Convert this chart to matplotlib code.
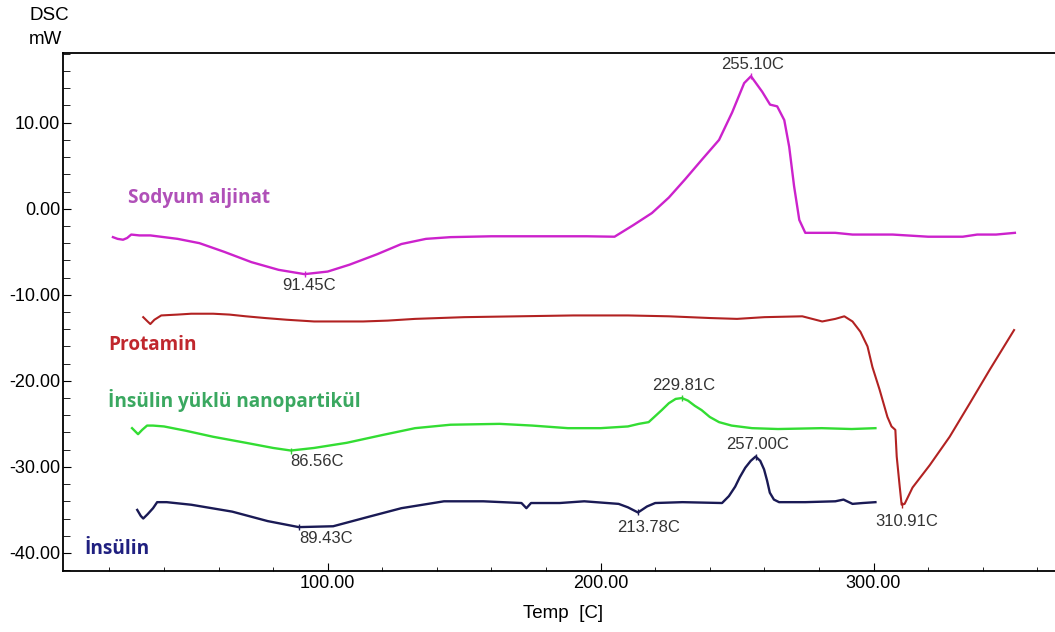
import matplotlib
matplotlib.use("Agg")
import matplotlib.pyplot as plt
from matplotlib.ticker import MultipleLocator, FormatStrFormatter

plt.rcParams['font.family'] = ['Liberation Sans', 'DejaVu Sans']

# Sodyum aljinat (magenta)
alj_t = [21.3, 23, 25, 26.5, 28, 31, 35, 45, 53, 62, 72, 82, 91.5, 100, 108, 118, 127, 136, 145,
         160, 180, 195, 205.1, 212, 218.8, 225, 230.9, 237.1, 243.4, 248.2, 252.6, 255.1, 259.2,
         262.1, 264.7, 267.3, 269.1, 270.9, 272.8, 275, 286, 292.3, 307, 320, 332.7, 338, 344.9, 351.8]
alj_v = [-3.3, -3.5, -3.6, -3.4, -3.0, -3.1, -3.1, -3.5, -4.0, -5.0, -6.2, -7.1, -7.6, -7.3, -6.5,
         -5.3, -4.1, -3.5, -3.3, -3.2, -3.2, -3.2, -3.25, -1.9, -0.5, 1.3, 3.4, 5.7, 8.0, 11.2, 14.6,
         15.4, 13.6, 12.1, 11.9, 10.3, 7.2, 2.6, -1.3, -2.8, -2.8, -3.0, -3.0, -3.25, -3.25, -3.0, -3.0, -2.8]

# Protamin (red)
pro_t = [32.4, 34, 35, 36.5, 39, 45, 50, 58, 64, 70, 77, 85, 95, 105, 113, 122, 132, 150, 170, 190,
         210, 225, 240, 250, 260, 273.9, 281.2, 286, 289.3, 292.3, 295.2, 297.8, 299.6, 302.2, 305.1,
         306.6, 308, 308.5, 309.6, 310.3, 311.4, 314.3, 320.6, 327.9, 335.3, 342.6, 351.5]
pro_v = [-12.6, -13.1, -13.4, -12.9, -12.4, -12.3, -12.2, -12.2, -12.3, -12.5, -12.7, -12.9, -13.1,
         -13.1, -13.1, -13.0, -12.8, -12.6, -12.5, -12.4, -12.4, -12.5, -12.7, -12.8, -12.6, -12.5,
         -13.1, -12.8, -12.5, -13.1, -14.3, -16.0, -18.4, -21.0, -24.2, -25.3, -25.7, -28.8, -32.3,
         -34.4, -34.3, -32.4, -29.8, -26.5, -22.6, -18.7, -14.1]

# Insulin yuklu nanopartikul (green)
nan_t = [28.3, 30.5, 32, 33.8, 36, 40, 48, 58, 70, 80, 86.5, 95, 107, 120, 132, 145, 163, 175, 188,
         200, 210, 214, 217.6, 220, 222.4, 225, 227.5, 229.8, 232, 234.5, 237, 240, 243.4, 248,
         255.5, 265, 281, 292, 300.7]
nan_v = [-25.5, -26.2, -25.7, -25.2, -25.2, -25.3, -25.8, -26.5, -27.2, -27.8, -28.1, -27.8, -27.2,
         -26.3, -25.5, -25.1, -25.0, -25.2, -25.5, -25.5, -25.3, -25.0, -24.8, -24.1, -23.4, -22.6,
         -22.1, -22.0, -22.3, -22.9, -23.4, -24.2, -24.8, -25.2, -25.5, -25.6, -25.5, -25.6, -25.5]

# Insulin (navy)
ins_t = [30.2, 31.5, 32.4, 34, 36, 37.5, 41, 50, 65, 78, 89.4, 102, 115, 127, 142.6, 157, 171,
         172.8, 174.5, 185, 194, 206.6, 210, 213.7, 217, 220, 230, 244.5, 247, 249.3, 251, 253,
         255, 256.8, 258.5, 259.9, 261, 262, 263.5, 265.4, 275, 286, 289, 292.3, 296, 300.7]
ins_v = [-35.0, -35.7, -36.0, -35.5, -34.8, -34.1, -34.1, -34.4, -35.2, -36.3, -37.0, -36.9, -35.8,
         -34.8, -34.0, -34.0, -34.2, -34.8, -34.2, -34.2, -34.0, -34.3, -34.7, -35.3, -34.6, -34.2,
         -34.1, -34.2, -33.4, -32.3, -31.2, -30.1, -29.3, -28.8, -29.3, -30.3, -31.6, -33.0, -33.8,
         -34.1, -34.1, -34.0, -33.8, -34.3, -34.2, -34.1]

# peak labels: temperature, signal value, text, offset in pixels
peak_t = [255.1, 91.5, 229.8, 256.8, 213.7, 89.4, 310.3, 86.5]
peak_v = [15.4, -7.6, -22.0, -28.8, -35.3, -37.0, -34.4, -28.1]
peak_txt = ['255.10C', '91.45C', '229.81C', '257.00C', '213.78C', '89.43C', '310.91C', '86.56C']
peak_col = ['#cc22cc', '#cc22cc', '#33cc33', '#1a1a55', '#1a1a55', '#1a1a55', '#b02020', '#33cc33']
peak_off = [(2, 12), (5, -11), (2, 13), (2, 12), (11, -15), (27, -11), (5, -17), (26, -11)]

fig = plt.figure(figsize=(10.55, 6.32), dpi=100)
ax = fig.add_axes([63 / 1055, 1 - 571 / 632, 1 - 63 / 1055, (571 - 53) / 632])

ax.plot(alj_t, alj_v, color='#cc22cc', lw=1.7)
ax.plot(pro_t, pro_v, color='#b22222', lw=1.5)
ax.plot(nan_t, nan_v, color='#33dd33', lw=1.7)
ax.plot(ins_t, ins_v, color='#1a1a55', lw=1.7)

for t, v, s, c, off in zip(peak_t, peak_v, peak_txt, peak_col, peak_off):
    ax.plot(t, v, marker='|', color=c, ms=5)
    ax.annotate(s, (t, v), xytext=off, textcoords='offset pixels', ha='center', va='center',
                fontsize=12, color='#333333')

lab_font = dict(family=['Open Sans', 'DejaVu Sans'], fontweight='bold', fontsize=13.7, va='center')
ax.text(26.8, 1.2, 'Sodyum aljinat', color='#b050b8', **lab_font)
ax.text(19.5, -15.8, 'Protamin', color='#c0272d', **lab_font)
ax.text(19.5, -22.3, 'İnsülin yüklü nanopartikül', color='#3aa860', **lab_font)
ax.text(11.0, -39.5, 'İnsülin', color='#202080', **lab_font)

ax.set_xlim(3, 366.5)
ax.set_ylim(-42.1, 18.1)
ax.xaxis.set_major_locator(MultipleLocator(100))
ax.xaxis.set_minor_locator(MultipleLocator(20))
ax.yaxis.set_major_locator(MultipleLocator(10))
ax.yaxis.set_minor_locator(MultipleLocator(2))
ax.xaxis.set_major_formatter(FormatStrFormatter('%.2f'))
ax.yaxis.set_major_formatter(FormatStrFormatter('%.2f'))
ax.tick_params(which='both', direction='in', labelsize=13, colors='black')
ax.tick_params(axis='y', which='major', length=6, pad=2)
ax.tick_params(axis='y', which='minor', length=5)
ax.tick_params(axis='x', which='major', length=6, pad=3)
ax.tick_params(axis='x', which='minor', length=3)
ax.spines['right'].set_visible(False)
for sp in ['left', 'bottom', 'top']:
    ax.spines[sp].set_linewidth(1.3)

fig.text(49 / 1055, 1 - 15 / 632, 'DSC', ha='center', va='center', fontsize=13.5)
fig.text(45 / 1055, 1 - 40 / 632, 'mW', ha='center', va='center', fontsize=13.5)
fig.text(563 / 1055, 1 - 613 / 632, 'Temp  [C]', ha='center', va='center', fontsize=13.5)

fig.savefig('out.png', dpi=100, facecolor='white')
